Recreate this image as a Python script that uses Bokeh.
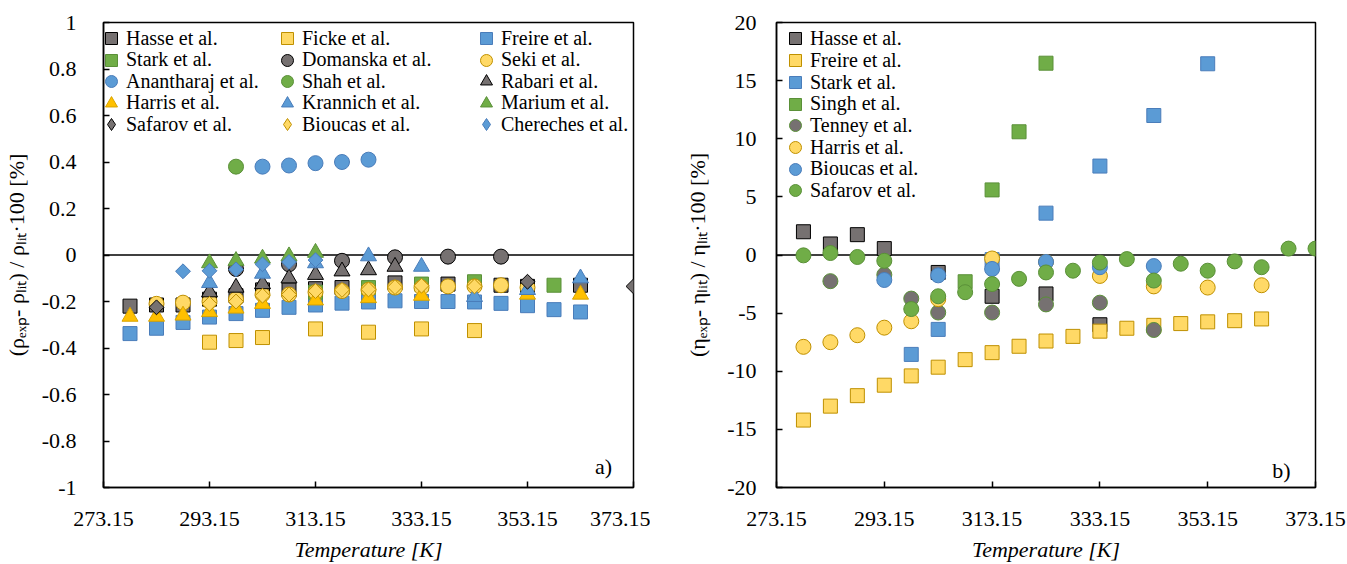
import math
from bokeh.plotting import figure
from bokeh.models import (Range1d, FixedTicker, CustomJSTickFormatter, Span, Label,
                          Legend, LegendItem)
from bokeh.layouts import row
from bokeh.embed import file_html
from bokeh.resources import INLINE

FONT = "Liberation Serif"
FS = "22px"
LFS = "20px"

# ---------------- axis ticks ----------------
T_ticks = [273.15, 293.15, 313.15, 333.15, 353.15, 373.15]
rho_ticks = [-1, -0.8, -0.6, -0.4, -0.2, 0, 0.2, 0.4, 0.6, 0.8, 1]
eta_ticks = [-20, -15, -10, -5, 0, 5, 10, 15, 20]

# ---------------- a) density deviations [%] ----------------
hasse_rho_T = [278.15, 283.15, 288.15, 293.15, 298.15, 303.15, 308.15, 313.15, 318.15, 328.15, 338.15, 348.15, 353.15, 363.15]
hasse_rho = [-0.22, -0.215, -0.215, -0.19, -0.175, -0.15, -0.15, -0.145, -0.14, -0.12, -0.125, -0.13, -0.135, -0.13]
ficke_rho_T = [293.15, 298.15, 303.15, 313.15, 323.15, 333.15, 343.15]
ficke_rho = [-0.375, -0.368, -0.355, -0.318, -0.332, -0.318, -0.325]
freire_rho_T = [278.15, 283.15, 288.15, 293.15, 298.15, 303.15, 308.15, 313.15, 318.15, 323.15, 328.15, 333.15, 338.15, 343.15, 348.15, 353.15, 358.15, 363.15]
freire_rho = [-0.338, -0.315, -0.29, -0.267, -0.252, -0.238, -0.225, -0.215, -0.207, -0.202, -0.197, -0.2, -0.2, -0.202, -0.208, -0.218, -0.235, -0.245]
stark_rho_T = [313.15, 323.15, 333.15, 343.15, 358.15]
stark_rho = [-0.16, -0.14, -0.125, -0.115, -0.13]
domanska_rho_T = [298.15, 308.15, 318.15, 328.15, 338.15, 348.15]
domanska_rho = [-0.06, -0.04, -0.025, -0.01, -0.007, -0.007]
seki_rho_T = [283.15, 288.15, 293.15, 298.15, 303.15, 308.15, 313.15, 318.15, 323.15, 328.15, 333.15, 338.15, 343.15, 348.15, 353.15]
seki_rho = [-0.21, -0.205, -0.2, -0.19, -0.17, -0.17, -0.16, -0.155, -0.15, -0.14, -0.14, -0.135, -0.135, -0.13, -0.14]
anantharaj_rho_T = [303.15, 308.15, 313.15, 318.15, 323.15]
anantharaj_rho = [0.38, 0.385, 0.395, 0.40, 0.41]
shah_rho_T = [298.15]
shah_rho = [0.38]
rabari_rho_T = [293.15, 298.15, 303.15, 308.15, 313.15, 318.15, 323.15, 328.15]
rabari_rho = [-0.16, -0.14, -0.125, -0.1, -0.085, -0.07, -0.065, -0.05]
harris_rho_T = [278.15, 283.15, 288.15, 293.15, 298.15, 303.15, 313.15, 323.15, 333.15, 353.15, 363.15]
harris_rho = [-0.265, -0.265, -0.26, -0.245, -0.23, -0.21, -0.195, -0.185, -0.175, -0.17, -0.17]
krannich_rho_T = [293.15, 303.15, 313.15, 323.15, 333.15, 343.15, 353.15, 363.15]
krannich_rho = [-0.12, -0.08, -0.035, -0.005, -0.05, -0.18, -0.15, -0.1]
marium_rho_T = [293.15, 298.15, 303.15, 308.15, 313.15]
marium_rho = [-0.035, -0.025, -0.015, -0.005, 0.01]
safarov_rho_T = [283.15, 353.15, 373.15]
safarov_rho = [-0.225, -0.115, -0.135]
bioucas_rho_T = [293.15, 298.15, 303.15, 308.15, 313.15, 318.15, 323.15, 328.15, 333.15, 343.15]
bioucas_rho = [-0.21, -0.2, -0.175, -0.17, -0.155, -0.15, -0.148, -0.138, -0.132, -0.135]
chereches_rho_T = [288.15, 293.15, 298.15, 303.15, 308.15, 313.15]
chereches_rho = [-0.07, -0.068, -0.062, -0.04, -0.03, -0.022]

# ---------------- b) viscosity deviations [%] ----------------
hasse_eta_T = [278.15, 283.15, 288.15, 293.15, 303.15, 313.15, 323.15, 333.15]
hasse_eta = [2.0, 0.95, 1.75, 0.55, -1.5, -3.55, -3.35, -6.0]
freire_eta_T = [278.15, 283.15, 288.15, 293.15, 298.15, 303.15, 308.15, 313.15, 318.15, 323.15, 328.15, 333.15, 338.15, 343.15, 348.15, 353.15, 358.15, 363.15]
freire_eta = [-14.2, -13.0, -12.1, -11.2, -10.4, -9.65, -9.0, -8.4, -7.85, -7.4, -7.0, -6.55, -6.3, -6.05, -5.9, -5.75, -5.65, -5.5]
stark_eta_T = [298.15, 303.15, 313.15, 323.15, 333.15, 343.15, 353.15]
stark_eta = [-8.55, -6.4, -0.4, 3.6, 7.65, 12.0, 16.45]
singh_eta_T = [308.15, 313.15, 318.15, 323.15]
singh_eta = [-2.3, 5.6, 10.6, 16.5]
tenney_eta_T = [283.15, 293.15, 298.15, 303.15, 313.15, 323.15, 333.15, 343.15]
tenney_eta = [-2.25, -1.7, -3.75, -4.95, -4.95, -4.25, -4.1, -6.45]
harris_eta_T = [278.15, 283.15, 288.15, 293.15, 298.15, 303.15, 313.15, 323.15, 333.15, 343.15, 353.15, 363.15]
harris_eta = [-7.9, -7.5, -6.9, -6.25, -5.7, -3.8, -0.3, -0.6, -1.8, -2.7, -2.8, -2.6]
bioucas_eta_T = [293.15, 303.15, 313.15, 323.15, 333.15, 343.15]
bioucas_eta = [-2.15, -1.75, -1.2, -0.6, -1.05, -0.95]
safarov_eta_T = [278.15, 283.15, 288.15, 293.15, 298.15, 303.15, 308.15, 313.15, 318.15, 323.15, 328.15, 333.15, 338.15, 343.15, 348.15, 353.15, 358.15, 363.15, 368.15, 373.15]
safarov_eta = [-0.03, 0.17, -0.17, -0.5, -4.65, -3.55, -3.2, -2.5, -2.05, -1.5, -1.35, -0.65, -0.35, -2.2, -0.75, -1.35, -0.55, -1.05, 0.55, 0.55]

# ---------------- styles ----------------
GRAY, BLACK = "#767171", "#000000"
YF, YE = "#FFD966", "#BF9000"
BF, BE = "#5B9BD5", "#4A7DBA"
GF, GE = "#70AD47", "#5A9038"
OF, OE = "#FFC000", "#D9A400"

left_series = [
    ("Hasse et al.", hasse_rho_T, hasse_rho, "square", GRAY, BLACK),
    ("Ficke et al.", ficke_rho_T, ficke_rho, "square", YF, YE),
    ("Freire et al.", freire_rho_T, freire_rho, "square", BF, BE),
    ("Stark et al.", stark_rho_T, stark_rho, "square", GF, GE),
    ("Domanska et al.", domanska_rho_T, domanska_rho, "circle", GRAY, BLACK),
    ("Seki et al.", seki_rho_T, seki_rho, "circle", YF, YE),
    ("Anantharaj et al.", anantharaj_rho_T, anantharaj_rho, "circle", BF, BE),
    ("Shah et al.", shah_rho_T, shah_rho, "circle", GF, GE),
    ("Rabari et al.", rabari_rho_T, rabari_rho, "triangle", GRAY, BLACK),
    ("Harris et al.", harris_rho_T, harris_rho, "triangle", OF, OE),
    ("Krannich et al.", krannich_rho_T, krannich_rho, "triangle", BF, BE),
    ("Marium et al.", marium_rho_T, marium_rho, "triangle", GF, GE),
    ("Safarov et al.", safarov_rho_T, safarov_rho, "diamond", GRAY, BLACK),
    ("Bioucas et al.", bioucas_rho_T, bioucas_rho, "diamond", YF, YE),
    ("Chereches et al.", chereches_rho_T, chereches_rho, "diamond", BF, BE),
]
right_series = [
    ("Hasse et al.", hasse_eta_T, hasse_eta, "square", GRAY, BLACK),
    ("Freire et al.", freire_eta_T, freire_eta, "square", YF, YE),
    ("Stark et al.", stark_eta_T, stark_eta, "square", BF, BE),
    ("Singh et al.", singh_eta_T, singh_eta, "square", GF, GE),
    ("Tenney et al.", tenney_eta_T, tenney_eta, "circle", GRAY, GE),
    ("Harris et al.", harris_eta_T, harris_eta, "circle", YF, YE),
    ("Bioucas et al.", bioucas_eta_T, bioucas_eta, "circle", BF, BE),
    ("Safarov et al.", safarov_eta_T, safarov_eta, "circle", GF, GE),
]

SIZES = {"square": 14, "circle": 15, "triangle": 16, "diamond": 10.5}
NAN = float("nan")


def make_fig(width, bl, br, bt, bb, y_min, y_max, y_ticks, y_label):
    p = figure(width=width, height=564, output_backend="svg", toolbar_location=None,
               x_range=Range1d(273.15, 373.15), y_range=Range1d(y_min, y_max),
               min_border_left=bl, min_border_right=br, min_border_top=bt, min_border_bottom=bb,
               background_fill_color="white", border_fill_color="white")
    p.xgrid.visible = False
    p.ygrid.visible = False
    p.outline_line_color = "black"
    p.outline_line_width = 1.5
    p.outline_line_alpha = 1
    for ax in (p.xaxis[0], p.yaxis[0]):
        ax.axis_line_color = "black"
        ax.axis_line_width = 1.5
        ax.major_tick_in = 6
        ax.major_tick_out = 0
        ax.major_tick_line_color = "black"
        ax.major_tick_line_width = 1.5
        ax.minor_tick_line_color = None
        ax.major_label_text_font = FONT
        ax.major_label_text_font_size = FS
        ax.major_label_text_color = "black"
        ax.axis_label_text_font = FONT
        ax.axis_label_text_font_size = FS
        ax.axis_label_text_color = "black"
    p.xaxis[0].ticker = FixedTicker(ticks=T_ticks)
    p.xaxis[0].formatter = CustomJSTickFormatter(code="return tick.toFixed(2);")
    p.yaxis[0].ticker = FixedTicker(ticks=y_ticks)
    p.yaxis[0].formatter = CustomJSTickFormatter(code="return String(Number(tick.toFixed(2)));")
    p.xaxis[0].axis_label = "Temperature [K]"
    p.xaxis[0].axis_label_text_font_style = "italic"
    p.yaxis[0].axis_label = y_label
    p.yaxis[0].axis_label_text_font_style = "normal"
    p.add_layout(Span(location=0, dimension="width", line_color="black", line_width=1.5,
                      level="underlay"))
    return p


def add_series(p, series):
    items = []
    for name, xs, ys, marker, fill, edge in series:
        if marker == "diamond":
            p.scatter(xs, ys, marker="square", angle=math.pi / 4, size=SIZES["diamond"],
                      fill_color=fill, line_color=edge, line_width=1)
            leg = p.scatter([NAN], [NAN], marker="diamond", size=10, fill_color=fill,
                            line_color=edge, line_width=1)
            items.append(LegendItem(label=name, renderers=[leg]))
        else:
            r = p.scatter(xs, ys, marker=marker, size=SIZES[marker],
                          fill_color=fill, line_color=edge, line_width=1)
            items.append(LegendItem(label=name, renderers=[r]))
    return items


GLYPH = 30


def add_legend_column(p, items, left, row_centers, frame_bottom):
    # one single-item legend per row so that rows can sit closer than the glyph box
    for item, yc in zip(items, row_centers):
        lg = Legend(items=[item], location=(left, frame_bottom - (yc + GLYPH / 2)),
                    orientation="vertical", glyph_width=GLYPH, glyph_height=GLYPH,
                    label_height=18, label_width=10, spacing=0, padding=0, margin=0,
                    label_standoff=0, border_line_color=None, background_fill_alpha=0,
                    label_text_font=FONT, label_text_font_size=LFS, label_text_color="black")
        p.add_layout(lg)


# ---------------- left panel ----------------
p1 = make_fig(650, 100, 17, 22, 73, -1, 1, rho_ticks,
              "(ρₑₓₚ- ρₗᵢₜ) / ρₗᵢₜ·100 [%]")
p1.yaxis[0].major_label_standoff = 27
p1.yaxis[0].axis_label_standoff = 10
p1.xaxis[0].major_label_standoff = 24
p1.xaxis[0].axis_label_standoff = 8
items1 = add_series(p1, left_series)
rows1 = [42, 63.5, 85, 106.5, 128]
add_legend_column(p1, [items1[0], items1[3], items1[6], items1[9], items1[12]], -7, rows1, 491)
add_legend_column(p1, [items1[1], items1[4], items1[7], items1[10], items1[13]], 169, rows1, 491)
add_legend_column(p1, [items1[2], items1[5], items1[8], items1[11], items1[14]], 368, rows1, 491)
p1.add_layout(Label(x=500, y=21, x_units="screen", y_units="screen", text="a)",
                    text_font=FONT, text_font_size=FS, text_color="black",
                    text_align="center", text_baseline="alphabetic"))

# ---------------- right panel ----------------
p2 = make_fig(697, 126, 32, 20, 77, -20, 20, eta_ticks,
              "(ηₑₓₚ- ηₗᵢₜ) / ηₗᵢₜ·100 [%]")
p2.yaxis[0].major_label_standoff = 20
p2.yaxis[0].axis_label_standoff = 14
p2.xaxis[0].major_label_standoff = 24
p2.xaxis[0].axis_label_standoff = 8
items2 = add_series(p2, right_series)
rows2 = [38, 60, 82, 103.5, 125, 147, 168.5, 190]
add_legend_column(p2, items2, 4, rows2, 487)
p2.add_layout(Label(x=505, y=17, x_units="screen", y_units="screen", text="b)",
                    text_font=FONT, text_font_size=FS, text_color="black",
                    text_align="center", text_baseline="alphabetic"))

layout = row(p1, p2)
open("out.html", "w").write(file_html(layout, INLINE))
